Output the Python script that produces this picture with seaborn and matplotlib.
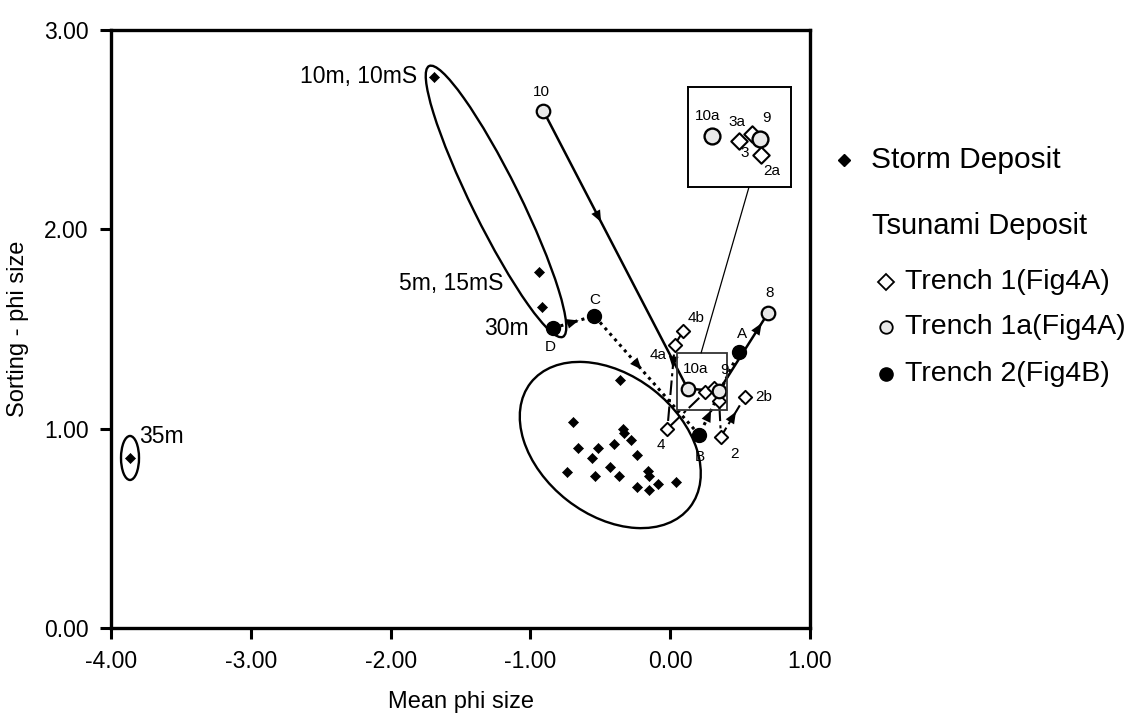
import numpy as np
import pandas as pd
import matplotlib
matplotlib.use("Agg")
import matplotlib.pyplot as plt
import matplotlib.transforms as mtransforms
from matplotlib.patches import Ellipse, Rectangle
from matplotlib.lines import Line2D
import seaborn as sns

# ---------------- data ----------------
storm_mean = [-3.864, -1.686, -0.940, -0.914, -0.359, -0.694, -0.335, -0.333, -0.662, -0.516,
              -0.401, -0.279, -0.559, -0.235, -0.433, -0.735, -0.535, -0.369, -0.157, -0.152,
              -0.235, -0.152, -0.089, 0.045]
storm_sort = [0.853, 2.766, 1.785, 1.609, 1.245, 1.033, 0.997, 0.977, 0.903, 0.903,
              0.925, 0.942, 0.853, 0.867, 0.810, 0.785, 0.763, 0.763, 0.788, 0.763,
              0.708, 0.694, 0.720, 0.732]

t1_labels = ["4b", "4a", "4", "3a", "3", "2a", "2", "2b"]
t1_mean = [0.094, 0.033, -0.020, 0.250, 0.310, 0.350, 0.363, 0.536]
t1_sort = [1.490, 1.422, 1.000, 1.183, 1.205, 1.139, 0.960, 1.161]

t1a_labels = ["10", "10a", "9", "8"]
t1a_mean = [-0.907, 0.125, 0.348, 0.700]
t1a_sort = [2.594, 1.200, 1.190, 1.580]

t2_labels = ["D", "C", "B", "A"]
t2_mean = [-0.836, -0.543, 0.208, 0.490]
t2_sort = [1.505, 1.566, 0.968, 1.383]

x_ticks = [-4.0, -3.0, -2.0, -1.0, 0.0, 1.0]
y_ticks = [0.0, 1.0, 2.0, 3.0]

inset_names = ["10a", "3a", "3", "9", "2a"]

# ---------------- style ----------------
sns.set_theme(style="white")
plt.rcParams["font.family"] = ["Liberation Sans", "DejaVu Sans"]
plt.rcParams["text.color"] = "black"
plt.rcParams["axes.labelcolor"] = "black"
plt.rcParams["xtick.color"] = "black"
plt.rcParams["ytick.color"] = "black"

W, H = 1136, 724
fig = plt.figure(figsize=(W / 100, H / 100), dpi=100)
fig.patch.set_facecolor("white")
ax = fig.add_axes([111 / W, 1 - 628 / H, 699 / W, 598 / H])
ax.set_xlim(-4, 1)
ax.set_ylim(0, 3)
ax.set_facecolor("white")

storm = pd.DataFrame({"mean": storm_mean, "sort": storm_sort})
t1 = pd.DataFrame({"label": t1_labels, "mean": t1_mean, "sort": t1_sort})
t1a = pd.DataFrame({"label": t1a_labels, "mean": t1a_mean, "sort": t1a_sort})
t2 = pd.DataFrame({"label": t2_labels, "mean": t2_mean, "sort": t2_sort})

LIGHT = "#e8e8e8"

# ---------------- connecting lines ----------------
ax.plot(t1a["mean"], t1a["sort"], color="black", lw=1.8, zorder=2, solid_capstyle="butt")
ax.plot(t2["mean"], t2["sort"], color="black", lw=2.2, ls=(0, (1, 1.4)), zorder=2)
ax.plot(t1["mean"], t1["sort"], color="black", lw=1.5, ls=(0, (7, 2, 1.5, 2)), zorder=2)


def arrow_on(df, i, frac):
    a = np.array([df["mean"][i], df["sort"][i]])
    b = np.array([df["mean"][i + 1], df["sort"][i + 1]])
    p = a + frac * (b - a)
    d = (b - a) / np.linalg.norm(b - a)
    ax.annotate("", xy=p, xytext=p - 0.004 * d,
                arrowprops=dict(arrowstyle="-|>,head_length=0.6,head_width=0.25",
                                color="black", lw=0.01, shrinkA=0, shrinkB=0,
                                mutation_scale=14), zorder=3)


arrow_on(t1a, 0, 0.40)
arrow_on(t1a, 2, 0.87)
arrow_on(t2, 0, 0.62)
arrow_on(t2, 1, 0.45)
arrow_on(t2, 2, 0.30)
arrow_on(t1, 1, 0.28)
arrow_on(t1, 6, 0.62)

# ---------------- ellipses (outlined groups) ----------------
def px_ellipse(cx, cy, w_px, h_px, angle):
    tr = mtransforms.ScaledTranslation(cx, cy, ax.transData)
    e = Ellipse((0, 0), w_px, h_px, angle=angle, fill=False, ec="black", lw=1.7,
                transform=tr, zorder=2)
    ax.add_patch(e)


px_ellipse(-0.4286, 0.918, 202, 140, -38)
px_ellipse(-1.246, 2.140, 302, 48, -63.7)
px_ellipse(storm_mean[0], storm_sort[0], 18, 44, 0)

# ---------------- points ----------------
sns.scatterplot(data=storm, x="mean", y="sort", marker="D", s=26, color="black",
                edgecolor="black", linewidth=0.5, ax=ax, zorder=4, legend=False)
sns.scatterplot(data=t1, x="mean", y="sort", marker="D", s=46, color="white",
                edgecolor="black", linewidth=1.4, ax=ax, zorder=5, legend=False)
sns.scatterplot(data=t1a, x="mean", y="sort", marker="o", s=95, color=LIGHT,
                edgecolor="black", linewidth=1.6, ax=ax, zorder=6, legend=False)
sns.scatterplot(data=t2, x="mean", y="sort", marker="o", s=100, color="black",
                edgecolor="black", linewidth=1.0, ax=ax, zorder=6, legend=False)

# ---------------- labels ----------------
def lab(df, name, dx, dy, ha="center", va="center", size=11, axis=None):
    axis = axis or ax
    r = df[df["label"] == name].iloc[0]
    axis.annotate(name, xy=(r["mean"], r["sort"]), xytext=(dx, dy),
                  textcoords="offset pixels", ha=ha, va=va, fontsize=size,
                  color="black", zorder=8)


lab(t1a, "10", -2, 19)
lab(t1a, "10a", 8, 20)
lab(t1a, "9", 6, 21)
lab(t1a, "8", 2, 20)
lab(t1, "4b", 4, 13, ha="left")
lab(t1, "4a", -8, -10, ha="right")
lab(t1, "4", -7, -16)
lab(t1, "2", 14, -17)
lab(t1, "2b", 10, 0, ha="left")
lab(t2, "B", 1, -22)
lab(t2, "A", 3, 18)
lab(t2, "C", 0, 16)
lab(t2, "D", -3, -19)

big = 16.5
ax.annotate("10m, 10mS", xy=(storm_mean[1], storm_sort[1]), xytext=(-17, 0),
            textcoords="offset pixels", ha="right", va="center", fontsize=big)
ax.annotate("5m, 15mS", xy=(storm_mean[2], storm_sort[2]), xytext=(-35, -11),
            textcoords="offset pixels", ha="right", va="center", fontsize=big)
ax.annotate("30m", xy=(t2_mean[0], t2_sort[0]), xytext=(-25, 0),
            textcoords="offset pixels", ha="right", va="center", fontsize=big)
ax.annotate("35m", xy=(storm_mean[0], storm_sort[0]), xytext=(9, 21),
            textcoords="offset pixels", ha="left", va="center", fontsize=big)

# small box around the dense group and leader line
ax.add_patch(Rectangle((0.05, 1.094), 0.357, 0.286, fill=False, ec="#333333", lw=1.3, zorder=7))
ax.plot([0.221, 0.564], [1.380, 2.213], color="black", lw=0.9, zorder=7)

# ---------------- axes styling ----------------
ax.set_xticks(x_ticks)
ax.set_yticks(y_ticks)
ax.set_xticklabels([f"{v:.2f}" for v in x_ticks], fontsize=16.5)
ax.set_yticklabels([f"{v:.2f}" for v in y_ticks], fontsize=16.5)
ax.tick_params(axis="both", direction="out", length=8, width=2.2, color="black",
               bottom=True, left=True, pad=8, labelcolor="black")
for s in ax.spines.values():
    s.set_visible(True)
    s.set_color("black")
    s.set_linewidth(2.4)
ax.grid(False)
ax.set_xlabel("Mean phi size", fontsize=17, color="black")
ax.set_ylabel("Sorting - phi size", fontsize=17, color="black")
ax.xaxis.set_label_coords(0.5, -0.105)
ax.yaxis.set_label_coords(-0.118, 0.5)

# ---------------- magnified inset ----------------
axi = fig.add_axes([688 / W, 1 - 187 / H, 103 / W, 100 / H])
axi.set_xlim(0.013, 0.491)
axi.set_ylim(1.039, 1.355)
axi.set_facecolor("white")
axi.set_xticks([])
axi.set_yticks([])
for s in axi.spines.values():
    s.set_visible(True)
    s.set_color("black")
    s.set_linewidth(1.4)
t1_in = t1[t1["label"].isin(inset_names)]
t1a_in = t1a[t1a["label"].isin(inset_names)]
sns.scatterplot(data=t1_in, x="mean", y="sort", marker="D", s=70, color="white",
                edgecolor="black", linewidth=1.5, ax=axi, zorder=5, legend=False)
sns.scatterplot(data=t1a_in, x="mean", y="sort", marker="o", s=130, color=LIGHT,
                edgecolor="black", linewidth=1.7, ax=axi, zorder=6, legend=False)
axi.set_xlabel("")
axi.set_ylabel("")
lab(t1a, "10a", -5, 20, axis=axi)
lab(t1, "3a", -2, 19, axis=axi)
lab(t1a, "9", 6, 21, axis=axi)
lab(t1, "3", -7, -19, axis=axi)
lab(t1, "2a", 11, -16, axis=axi)

# ---------------- legend (manual) ----------------
def fx(px):
    return px / W


def fy(py):
    return 1 - py / H


fig.add_artist(Line2D([fx(844)], [fy(160)], transform=fig.transFigure, marker="D",
                      ms=6, mfc="black", mec="black", ls="none"))
fig.text(fx(871), fy(160), "Storm Deposit", fontsize=21.5, va="center", ha="left")
fig.text(fx(872), fy(226), "Tsunami Deposit", fontsize=21, va="center", ha="left")
fig.add_artist(Line2D([fx(886)], [fy(282)], transform=fig.transFigure, marker="D",
                      ms=8, mfc="white", mec="black", mew=1.3, ls="none"))
fig.text(fx(905), fy(282), "Trench 1(Fig4A)", fontsize=20.5, va="center", ha="left")
fig.add_artist(Line2D([fx(886)], [fy(327)], transform=fig.transFigure, marker="o",
                      ms=9, mfc=LIGHT, mec="black", mew=1.3, ls="none"))
fig.text(fx(905), fy(327), "Trench 1a(Fig4A)", fontsize=20.5, va="center", ha="left")
fig.add_artist(Line2D([fx(886)], [fy(374)], transform=fig.transFigure, marker="o",
                      ms=9.5, mfc="black", mec="black", ls="none"))
fig.text(fx(905), fy(374), "Trench 2(Fig4B)", fontsize=20.5, va="center", ha="left")

fig.savefig("out.png", dpi=100, facecolor="white")
